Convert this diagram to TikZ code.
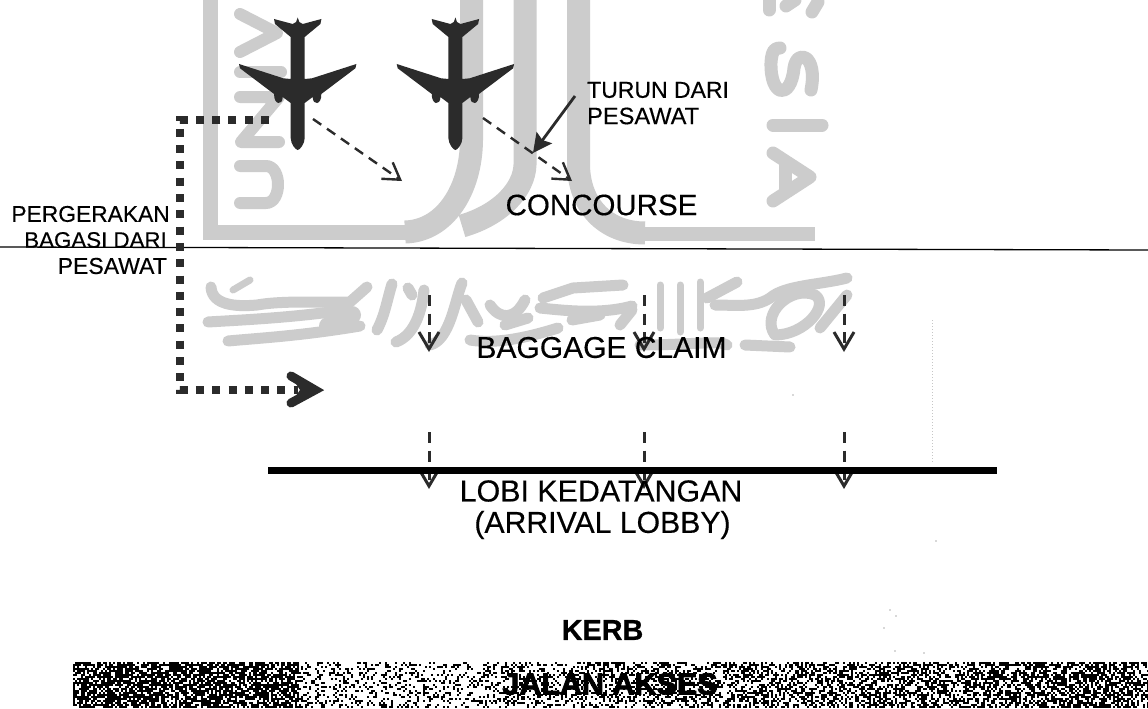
\documentclass[tikz,border=0pt]{standalone}
\usepackage{fontspec}
\setmainfont{Liberation Sans}[FakeBold=0.35,BoldFeatures={FakeBold=0.8}]
\newfontfamily\heavyfont{Liberation Sans}[BoldFeatures={FakeBold=2.6}]
\usetikzlibrary{arrows.meta}
\definecolor{ink}{gray}{0.17}
\definecolor{wm}{gray}{0.80}
\tikzset{
  x=1pt,y=-1pt,
  wmstroke/.style={draw=wm,line width=#1,line cap=round,line join=round},
  wmstroke/.default=7,
  label text/.style={text=black,inner sep=0,font=\fontsize{#1}{#1}\selectfont},
  label bold/.style={text=black,inner sep=0,font=\fontsize{#1}{#1}\selectfont\bfseries},
  label heavy/.style={text=black,inner sep=0,font=\fontsize{#1}{#1}\selectfont\heavyfont\bfseries},
  diag arrow/.style={draw=ink,line width=2.4,dash pattern=on 10pt off 7pt,-{Straight Barb[length=16pt,width=20pt]}},
  down arrow/.style={draw=ink,line width=3,dash pattern=on 11pt off 7.5pt,-{Straight Barb[length=17pt,width=20pt]}},
  baggage path/.style={draw=ink,line width=8,dash pattern=on 8pt off 8.3pt},
  plane/.pic={
    \fill[ink] (0,17.5) -- (-1.6,22) -- (-5,24) -- (-23.7,19) -- (-22.7,24) -- (-7,37)
      -- (-7,79) -- (-14.3,78.3) -- (-58.7,64) -- (-57.7,68.3) -- (-23.6,94)
      .. controls (-24,105) and (-15,106) .. (-15,97) -- (-7,103)
      -- (-7,138) .. controls (-7,144) and (-2,150) .. (0,150)
      .. controls (2,150) and (7,144) .. (7,138) -- (7,103) -- (15,97)
      .. controls (15,106) and (24,105) .. (23.6,94) -- (57.7,68.3) -- (58.7,64) -- (14.3,78.3) -- (7,79)
      -- (7,37) -- (22.7,24) -- (23.7,19) -- (5,24) -- (1.6,22) -- cycle;
  }
}
\begin{document}
\begin{tikzpicture}
\useasboundingbox (0,0) rectangle (1148,709);
\fill[white] (0,0) rectangle (1148,709);
% watermark frame and letter U
\begin{scope}[wmstroke=15,line cap=butt]
  \draw (210.5,-2) -- (210.5,232);
  \draw (203,232) -- (415,232);
  \draw[line width=14] (640,233.5) -- (815,233.5);
\end{scope}
\draw[wmstroke=23,line cap=butt] (471.5,-2) -- (471.5,140) .. controls (471,190) and (445,231) .. (405,232);
\draw[wmstroke=23,line cap=butt] (525,-2) -- (525,165) .. controls (524,190) and (500,215) .. (462,226);
\draw[wmstroke=23,line cap=butt] (578.5,-2) -- (578.5,165) .. controls (579,205) and (605,233) .. (645,233);
% watermark letters left
\begin{scope}[wmstroke=12]
  \draw (240,14) -- (277,33) -- (240,52);
  \draw (240,72) -- (281,72);
  \draw (240,97) -- (279,97) -- (241,142) -- (279,142);
  \draw (240,166) -- (266,166) .. controls (282,166) and (282,203) .. (266,203) -- (240,203);
\end{scope}
% watermark letters right
\begin{scope}[wmstroke=13]
  \draw (773,201) -- (810,177) -- (773,153);
  \draw (785,165) -- (785,190);
  \draw (773,125) -- (822,125);
  \draw (811,90) .. controls (818,55) and (797,48) .. (794,68) .. controls (791,100) and (770,98) .. (771,62) .. controls (772,50) and (775,48) .. (780,48);
  \draw (769,10) -- (769,1);
  \draw (786,6) -- (795,0);
  \draw (812,12) -- (818,2);
\end{scope}
% watermark band
\begin{scope}[wmstroke=11]
  \draw (211,287) .. controls (212,305) and (235,307) .. (257,305) .. controls (285,300) and (330,303) .. (350,302) -- (367,287);
  \draw[line width=7] (233,290) -- (250,280);
  \draw (208,322) .. controls (240,320) and (290,318) .. (345,310);
  \draw[line width=18] (328,326) -- (352,315);
  \draw (228,341) .. controls (260,338) and (300,336) .. (360,326);
  \draw (377,330) .. controls (385,315) and (387,300) .. (392,284);
  \draw (396,342) .. controls (415,335) and (422,310) .. (424,290);
  \draw (408,288) -- (412,295);
  \draw (430,345) .. controls (450,340) and (455,300) .. (462,283);
  \draw (470,340) .. controls (500,345) and (535,335) .. (558,328);
  \draw (466,300) -- (478,322);
  \draw (490,305) .. controls (500,320) and (515,320) .. (525,300);
  \draw (505,325) -- (528,318);
  \draw (543,298) -- (573,288) -- (623,285);
  \draw (540,308) .. controls (560,310) and (600,315) .. (632,306);
  \draw (572,320) -- (600,315);
  \draw (620,325) -- (632,310);
  \draw[line width=7] (660,285) -- (660,328);
  \draw[line width=7] (680,285) -- (680,332);
  \draw[line width=7] (700,282) -- (700,328);
  \draw (707,298) -- (737,282);
  \draw (715,305) .. controls (735,305) and (755,308) .. (770,298) .. controls (785,285) and (820,285) .. (847,278);
  \draw (775,335) .. controls (760,315) and (790,285) .. (815,295) .. controls (830,305) and (805,335) .. (775,335);
  \draw (820,328) -- (847,295);
  \draw (640,345) .. controls (690,345) and (720,340) .. (727,345);
  \draw (745,345) -- (790,347);
\end{scope}
% faint scan marks
\draw[gray!45,line width=0.6,dash pattern=on 1pt off 2pt] (932,320) -- (932,462);
\foreach \sx/\sy in {793/395,890/610,896/616,884/628,895/651,924/653,936/541}{
  \fill[gray!60] (\sx,\sy) circle (0.8);
}
% separator
\coordinate (lineL) at (0,247);
\coordinate (lineR) at (1148,250);
\draw[black,line width=1.3] (lineL) -- (lineR);
% aircraft
\pic at (297.7,0) {plane};
\pic at (455.4,0) {plane};
% baggage movement
\coordinate (bagStart) at (269,120);
\coordinate (bagTop) at (180,120);
\coordinate (bagBottom) at (180,390);
\coordinate (bagEnd) at (298,390);
\draw[baggage path] (bagStart) -- (bagTop) -- (bagBottom) -- (bagEnd);
\draw[draw=ink,line width=9,line cap=round,miter limit=10] (291,376) -- (315,390) -- (291,403);
\fill[ink] (291,376) -- (315,390) -- (291,403) -- (300,390) -- cycle;
% labels
\node[label text=22.8,anchor=east] (lblA) at (170,214) {PERGERAKAN};
\node[label text=22.3,anchor=east] (lblB) at (167,240) {BAGASI DARI};
\node[label text=23,anchor=east] (lblC) at (167,266) {PESAWAT};
\node[label text=23,anchor=west] (turunA) at (587,90) {TURUN DARI};
\node[label text=23.6,anchor=west] (turunB) at (587,116) {PESAWAT};
% disembarking arrows
\coordinate (dA) at (313,119);
\coordinate (dB) at (402,181);
\coordinate (eA) at (483,118);
\coordinate (eB) at (572,181);
\draw[diag arrow] (dA) -- (dB);
\draw[diag arrow] (eA) -- (eB);
\coordinate (callTail) at (575,96);
\coordinate (callTip) at (533,153);
\draw[ink,line width=2.8,-{Stealth[length=19pt,width=19pt,inset=3pt]}] (callTail) -- (callTip);
% down arrows
\foreach \n/\xx in {a/429,b/644,c/844}{
  \coordinate (up\n) at (\xx,295);
  \coordinate (um\n) at (\xx,352);
  \coordinate (lo\n) at (\xx,432);
  \coordinate (lm\n) at (\xx,489);
  \draw[down arrow] (up\n) -- (um\n);
  \draw[down arrow] (lo\n) -- (lm\n);
}
% arrival lobby wall
\coordinate (wallL) at (268,470.5);
\coordinate (wallR) at (997,470.5);
\draw[black,line width=7] (wallL) -- (wallR);
% main labels
\node[label text=29.5] (concourse) at (601.5,205) {CONCOURSE};
\node[label text=30] (baggage) at (601.5,347.5) {BAGGAGE CLAIM};
\node[label text=30.4] (lobiA) at (601,491) {LOBI KEDATANGAN};
\node[label text=30.2] (lobiB) at (602.5,525) {(ARRIVAL LOBBY)};
\node[label bold=28.8] (kerb) at (602.5,630) {KERB};
% road: binarised scan noise whose density follows the reference
\fill[white] (73,662) rectangle (1148,708);
\pgfmathsetseed{7}
\foreach \xa/\xb/\da/\db in {73/297/0.70/0.70,299/479/0.24/0.27,481/749/0.30/0.46,751/999/0.48/0.54,1001/1099/0.54/0.66,1101/1147/0.66/0.52}{
  \foreach \xx in {\xa,\numexpr\xa+2\relax,...,\xb}{
    \pgfmathsetmacro\dens{\da+(\db-\da)*(\xx-\xa)/(\xb-\xa)}
    \foreach \yy in {662,664,...,706}{
      \pgfmathsetmacro\rr{rnd}
      \ifdim\rr pt<\dens pt \fill[black] (\xx,\yy) rectangle +(2,2);\fi
    }
  }
}
\node[label heavy=30.5] (jalan) at (610,684) {JALAN AKSES};
\end{tikzpicture}
\end{document}
